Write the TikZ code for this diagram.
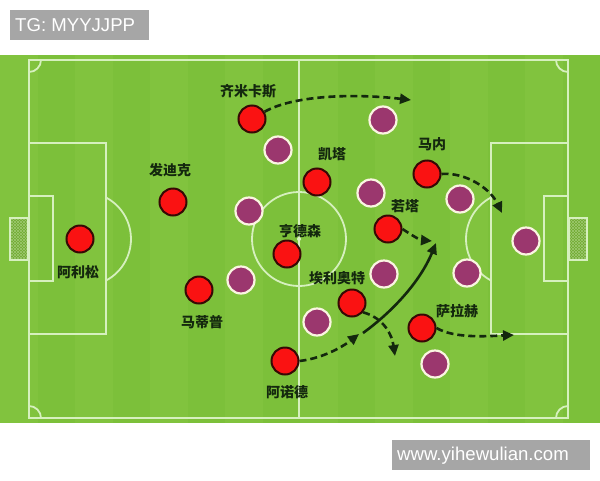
\documentclass[tikz,border=0pt]{standalone}
\usepackage{fontspec}
\setmainfont{Liberation Sans}
\newfontfamily\cjk{Noto Sans CJK SC}
\usetikzlibrary{arrows.meta,patterns}
\definecolor{grass}{RGB}{124,192,58}
\definecolor{grass2}{RGB}{129,195,62}
\definecolor{netg}{RGB}{112,170,48}
\definecolor{pline}{RGB}{214,240,190}
\definecolor{redp}{RGB}{250,18,18}
\definecolor{redo}{RGB}{55,8,5}
\definecolor{purp}{RGB}{155,55,110}
\definecolor{purpo}{RGB}{250,245,225}
\definecolor{ink}{RGB}{20,40,14}
\definecolor{wm}{RGB}{166,166,166}
\tikzset{
 pitch/.style={draw=pline, line width=1.8pt},
 redpl/.style={circle, fill=redp, draw=redo, line width=2pt, minimum size=27pt, inner sep=0pt},
 purpl/.style={circle, fill=purp, draw=purpo, line width=2.2pt, minimum size=27pt, inner sep=0pt},
 lbl/.style={font=\cjk\bfseries\fontsize{14}{14}\selectfont, text=ink, inner sep=0pt},
 run/.style={draw=ink, line width=2.6pt, dash pattern=on 7pt off 4pt, -{Triangle[length=11pt,width=10pt]}},
 runs/.style={draw=ink, line width=2.6pt, -{Triangle[length=11pt,width=10pt]}},
 wmtext/.style={text=white, font=\fontsize{18.6}{18.6}\selectfont, inner sep=0pt, anchor=west},
 net/.style={pattern color=netg!55!pline}
}
\begin{document}
\begin{tikzpicture}[x=1pt,y=-1pt]
\useasboundingbox (0,0) rectangle (600,480);
\fill[white] (0,0) rectangle (600,480);
% grass
\fill[grass] (0,55) rectangle (600,423);
\foreach \i in {0,2,...,14} {\fill[grass2] (\i*37.5,55) rectangle (\i*37.5+37.5,423);}
% pitch lines
\draw[pitch] (29,60) rectangle (568,418);
\draw[pitch] (299,60) -- (299,418);
\draw[pitch] (299,239) circle[radius=47];
\fill[pline] (299,239) circle[radius=2];
\draw[pitch] (29,143) rectangle (106,334);
\draw[pitch] (29,196) rectangle (53,281);
\draw[pitch] (491,143) rectangle (568,334);
\draw[pitch] (544,196) rectangle (568,281);
\draw[pitch] (84,239) ++(-62:47) arc[start angle=-62, end angle=62, radius=47];
\draw[pitch] (513,239) ++(118:47) arc[start angle=118, end angle=242, radius=47];
\draw[pitch] (41,60) arc[start angle=0, end angle=90, radius=12];
\draw[pitch] (556,60) arc[start angle=180, end angle=90, radius=12];
\draw[pitch] (41,418) arc[start angle=0, end angle=-90, radius=12];
\draw[pitch] (556,418) arc[start angle=180, end angle=270, radius=12];
% goals
\fill[netg] (10,218) rectangle (28,260);
\fill[net, pattern=north east lines] (10,218) rectangle (28,260);
\fill[net, pattern=north west lines] (10,218) rectangle (28,260);
\draw[pline, line width=2.5pt] (10,218) rectangle (28,260);
\fill[netg] (569,218) rectangle (587,260);
\fill[net, pattern=north east lines] (569,218) rectangle (587,260);
\fill[net, pattern=north west lines] (569,218) rectangle (587,260);
\draw[pline, line width=2.5pt] (569,218) rectangle (587,260);
% purple players
\node[purpl] (p1) at (278,150) {};
\node[purpl] (p2) at (383,120) {};
\node[purpl] (p3) at (371,193) {};
\node[purpl] (p4) at (460,199) {};
\node[purpl] (p5) at (526,241) {};
\node[purpl] (p6) at (249,211) {};
\node[purpl] (p7) at (241,280) {};
\node[purpl] (p8) at (384,274) {};
\node[purpl] (p9) at (467,273) {};
\node[purpl] (p10) at (317,322) {};
\node[purpl] (p11) at (435,364) {};
% red players
\node[redpl] (zmks) at (252,119) {};
\node[redpl] (fdk) at (173,202) {};
\node[redpl] (als) at (80,239) {};
\node[redpl] (mdp) at (199,290) {};
\node[redpl] (and) at (285,361) {};
\node[redpl] (hds) at (287,254) {};
\node[redpl] (kt) at (317,182) {};
\node[redpl] (mn) at (427,174) {};
\node[redpl] (rt) at (388,229) {};
\node[redpl] (ylat) at (352,303) {};
\node[redpl] (slh) at (422,328) {};
% labels
\node[lbl] (lzmks) at (248,91) {齐米卡斯};
\node[lbl] (lfdk) at (170,170) {发迪克};
\node[lbl] (lals) at (78,272) {阿利松};
\node[lbl] (lmdp) at (202,322) {马蒂普};
\node[lbl] (land) at (287,392) {阿诺德};
\node[lbl] (lhds) at (300,231) {亨德森};
\node[lbl] (lkt) at (332,154) {凯塔};
\node[lbl] (lmn) at (432,144) {马内};
\node[lbl] (lrt) at (405,206) {若塔};
\node[lbl] (lylat) at (337,278) {埃利奥特};
\node[lbl] (lslh) at (457,311) {萨拉赫};
% runs
\coordinate (tA) at (411,100);
\coordinate (tB) at (502,213);
\coordinate (tC) at (432,241);
\coordinate (tE) at (359,334);
\coordinate (sD) at (363,333);
\coordinate (tD) at (436,243);
\coordinate (tF) at (395,356);
\coordinate (tG) at (514,335);
\draw[run] (zmks.30) .. controls (292,96) and (350,93) .. (tA);
\draw[run] (mn.east) .. controls (465,172) and (490,188) .. (tB);
\draw[run] (rt.east) .. controls (413,236) and (420,240) .. (tC);
\draw[run] (and.east) .. controls (325,358) and (345,345) .. (tE);
\draw[runs] (sD) .. controls (392,312) and (420,282) .. (tD);
\draw[run] (ylat.-40) .. controls (384,318) and (392,335) .. (tF);
\draw[run] (slh.east) .. controls (455,339) and (490,336) .. (tG);
% watermarks
\fill[wm] (10,10) rectangle (149,40);
\node[wmtext] (wm1) at (15,25.5) {TG: MYYJJPP};
\fill[wm] (392,440) rectangle (590,470);
\node[wmtext] (wm2) at (397,455.5) {www.yihewulian.com};
\end{tikzpicture}
\end{document}
